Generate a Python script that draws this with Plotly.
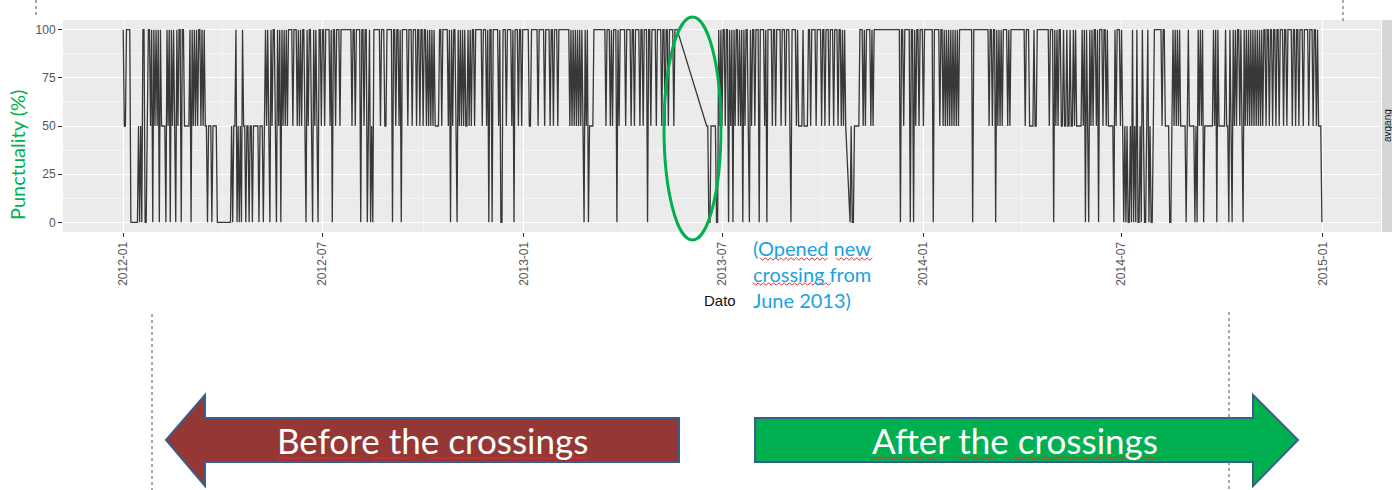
import pandas as pd
import plotly.graph_objects as go

# ---------------- data ----------------
# one character per day from 2012-01-01: H = 100 %, M = 50 %, L = 0 %, '-' = no record
start_date = "2012-01-01"
codes_2012_h1 = ("HMMHHHHLLL LLLLMLMLHH LLMHHMHLHM HMHLHMMMML HMHLHMHMLH MHHLHHMMMM "
                 "MHLHMHMHMH HMHMHMMLMM MLMMMMLLLL LLLLLLLLLM LMMHLMLMLH MMLMMLMMLM "
                 "MMMMLMMMLM HMHMLHMHHM LHMHLHMHMH MHHHHMHHHM HMHMHHMLHM HHMLHMHMLH HM")
codes_2012_h2 = ("HHMHHHHMHL HHMHHHMHHH HHHHHHHMHH MHHHHLHHMH HLMHLMLHHH HHHMHHHMMH "
                 "HHHHLHHMHH MHLHHHHHMH HHMHHHMHHM HHMHHMHMHM HMHMMMMHHM HHHHHMHLHM "
                 "HHMLHMHMHM HMMHMHMHHM HHHHHHMHHH MHLHHLHHHH HMHLLHHHMH HHHMHLHHHM HHMH")
codes_2013_h1 = ("HHHHHMMHHH HHHMHHHHHM HHHHMHHMHH HMHHHHHHHH HHMHMHMHMH MHMHMLHMHL "
                 "MMMMHHHHHH HHHHHMHHHM HMHHHLHMHH HHHMHHHHMH HMHHHHMHHM HHHLHHMHHH "
                 "HMHHHHMHHM HHMHHHHMHH H ---------- ---------- ------ MMLLMMMMML LHMH")
codes_2013_h2 = ("MHHMHHLHMH LHMHHMHMHL HMHHMLHMHH MHHHLHHHHM HLHHHHMHHM HHHHMHHHMH "
                 "HHMLHHHHMH MMMMHMMMMH HMHHHHMHHH HMHHMHHHMH HHMHHHMHHM HMHM --- "
                 "LMLLMMMMMH HHMHMHHHHM HMHHHHHHHH HHHHHHHHHH HHHHHHLHHM HHHHHLHHLH MHHMHHH")
codes_2014_h1 = ("MHHHHHHHHL HHHHHMHHMH MHMHMHMHMH MHMHHHHHHH HHHHHLHHHH HHHHHHHHHH "
                 "MHHMHHLHMH MHMHHHHMHM HHHHHHHHHH HHHMHHHMMM MHMMHHHHHH HHHHHMHHHL "
                 "HMHMHHMMHM MHMMHMMHMH MMMMMHMHLH MLHMHMHHMH LHHHMHHMHM MMMMLHMHHH M")
codes_2014_h2 = ("HMLMLMLLML HLMLHLLMLH MLLMHLMLLM HHHHHHHMHH MMMMLLMHMH MHMHMMMMML "
                 "MHMMMMMLML HMHMHLMMMM MMMMHMHLHM MMMMMHMMLH MLHMHMHHMH MLHMHMHMHM "
                 "HMHMHMHMHM HHMHHMHHMH HMHHMHHHMH HMHHHHMHHM HHMHHHMHHH HMHHHMHHMH MMML")
value_of = {"H": 100, "M": 50, "L": 0}

y_ticks = [0, 25, 50, 75, 100]
x_title = "Dato"
y_title = "Punctuality (%)"
facet_label = "avgang"
note_text = "(Opened new<br>crossing from<br>June 2013)"
left_arrow_text = "Before the crossings"
right_arrow_text = "After the crossings"

codes = "".join([codes_2012_h1, codes_2012_h2, codes_2013_h1,
                 codes_2013_h2, codes_2014_h1, codes_2014_h2]).replace(" ", "")
all_days = pd.date_range(start_date, periods=len(codes), freq="D")
dates = [d for d, c in zip(all_days, codes) if c != "-"]
values = [value_of[c] for c in codes if c != "-"]

# ---------------- layout helpers ----------------
W, H = 1392, 490
L0, R0, T0, B0 = 63, 1381, 20, 232


def px(x):
    return (x - L0) / (R0 - L0)


def py(y):
    return (B0 - y) / (B0 - T0)


def poly(points):
    return "M " + " L ".join(f"{px(a):.5f},{py(b):.5f}" for a, b in points) + " Z"


def wavy(x0, x1, y, amp=1.3, step=2.6):
    pts, x, k = [], x0, 0
    while x <= x1:
        pts.append((x, y + (amp if k % 2 else -amp)))
        x += step
        k += 1
    path = "M " + " L ".join(f"{px(a):.5f},{py(b):.5f}" for a, b in pts)
    return dict(type="path", xref="paper", yref="paper", path=path,
                line=dict(color="#E03030", width=1))


fig = go.Figure()
fig.add_trace(go.Scatter(x=dates, y=values, mode="lines",
                         line=dict(color="rgba(25,25,25,0.85)", width=1.3),
                         hoverinfo="skip"))

shapes = []
# facet strip
shapes.append(dict(type="rect", xref="paper", yref="paper",
                   x0=px(1382), x1=px(1410), y0=py(232), y1=py(20),
                   fillcolor="#D6D6D6", line=dict(width=0), layer="below"))
# dotted guide lines
for (x, y0, y1) in [(36, 0, 16), (1343, 0, 23), (152, 314, 490), (1229, 312, 490)]:
    shapes.append(dict(type="line", xref="paper", yref="paper",
                       x0=px(x), x1=px(x), y0=py(y0), y1=py(y1),
                       line=dict(color="#555555", width=1, dash="dot")))
# green ellipse
shapes.append(dict(type="circle", xref="paper", yref="paper",
                   x0=px(664), x1=px(721), y0=py(240), y1=py(17),
                   line=dict(color="#00B050", width=3)))
# arrows
shapes.append(dict(type="path", xref="paper", yref="paper",
                   path=poly([(166, 440), (205, 395), (205, 418), (679, 418),
                              (679, 462), (205, 462), (205, 486)]),
                   fillcolor="#953735", line=dict(color="#3A5E8C", width=2)))
shapes.append(dict(type="path", xref="paper", yref="paper",
                   path=poly([(755, 418), (1253, 418), (1253, 395), (1298, 440),
                              (1253, 486), (1253, 462), (755, 462)]),
                   fillcolor="#00B050", line=dict(color="#3A5E8C", width=2)))
# spell-check underlines
for (a, b, y) in [(760, 830, 259), (836, 873, 259), (753, 832, 284),
                  (276, 362, 458), (373, 416, 458), (428, 590, 458),
                  (870, 942, 458), (954, 997, 458), (1010, 1160, 458)]:
    shapes.append(wavy(a, b, y))


def note(text, x, y, **kw):
    d = dict(text=text, xref="paper", yref="paper", x=px(x), y=py(y),
             xanchor="center", yanchor="middle", showarrow=False)
    d.update(kw)
    return d


annotations = [
    note(y_title, 17, 155, textangle=-90,
         font=dict(family="Lato", size=20, color="#00B050")),
    note(x_title, 720, 300,
         font=dict(family="Liberation Sans", size=15, color="#111111")),
    note(note_text, 751, 234, xanchor="left", yanchor="top", align="left",
         font=dict(family="Lato", size=20, color="#1BA1E2")),
    note(facet_label, 1387, 126, textangle=-90,
         font=dict(family="Liberation Sans", size=10, color="#1A1A1A")),
    note(left_arrow_text, 432, 440,
         font=dict(family="Lato", size=35, color="white")),
    note(right_arrow_text, 1015, 440,
         font=dict(family="Lato", size=35, color="white")),
]

fig.update_layout(
    width=W, height=H,
    margin=dict(l=L0, r=W - R0, t=T0, b=H - B0),
    paper_bgcolor="white", plot_bgcolor="#EBEBEB",
    showlegend=False,
    shapes=shapes, annotations=annotations,
    xaxis=dict(type="date", range=["2011-11-07", "2015-02-23"],
               tick0="2012-01-01", dtick="M6", tickformat="%Y-%m",
               tickangle=-90, ticks="outside", ticklen=4, tickcolor="#333333",
               tickfont=dict(family="Liberation Sans", size=12, color="#555555"),
               showgrid=True, gridcolor="white", gridwidth=1.2,
               zeroline=False, showline=False,
               minor=dict(tick0="2012-01-01", dtick="M3", showgrid=True,
                          gridcolor="#F4F4F4", gridwidth=0.6)),
    yaxis=dict(range=[-5, 105], tickvals=y_ticks,
               ticks="outside", ticklen=4, tickcolor="#333333",
               tickfont=dict(family="Liberation Sans", size=12, color="#555555"),
               showgrid=True, gridcolor="white", gridwidth=1.2,
               zeroline=False, showline=False,
               minor=dict(tickvals=[12.5, 37.5, 62.5, 87.5], showgrid=True,
                          gridcolor="#F4F4F4", gridwidth=0.6)),
)

fig.write_html("out.html", config={"displayModeBar": False},
               post_script="document.body.style.margin='0';")
